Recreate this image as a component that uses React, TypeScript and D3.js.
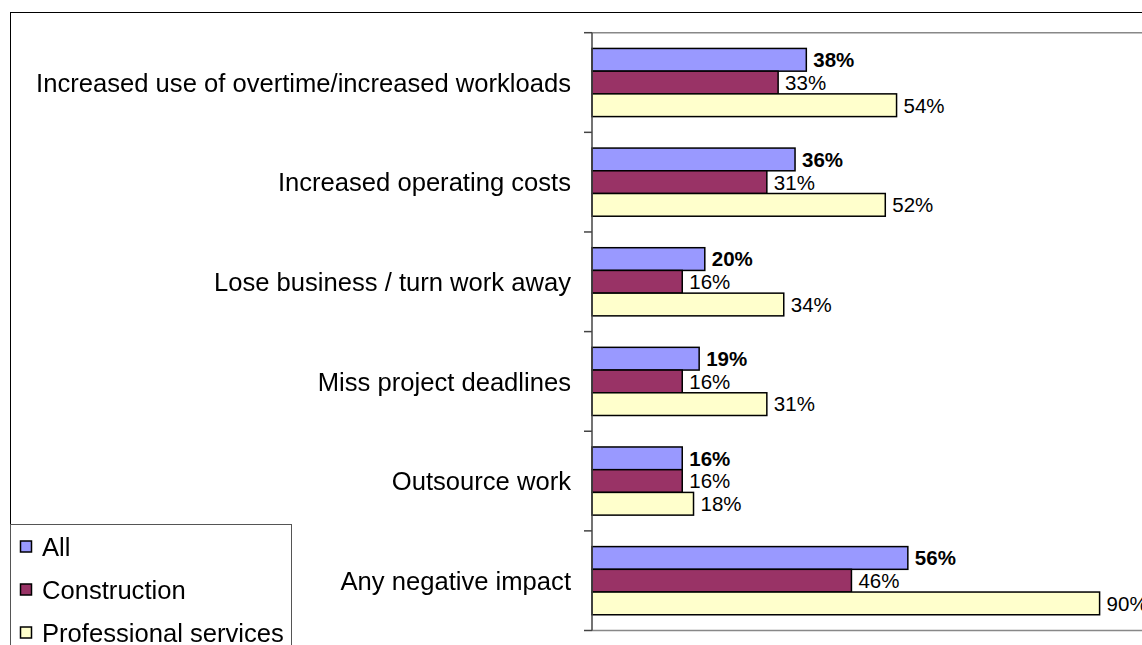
import { useEffect, useRef } from "react";
import * as d3 from "d3";

const categories = [
    "Increased use of overtime/increased workloads",
    "Increased operating costs",
    "Lose business / turn work away",
    "Miss project deadlines",
    "Outsource work",
    "Any negative impact",
];
const seriesNames = ["All", "Construction", "Professional services"];
const allValues = [38, 36, 20, 19, 16, 56];
const constructionValues = [33, 31, 16, 16, 16, 46];
const professionalValues = [54, 52, 34, 31, 18, 90];
const seriesColors = ["#9999FF", "#993366", "#FFFFCC"];

const FONT = "'Liberation Sans', Arial, sans-serif";

export default function App() {
    const svgRef = useRef<SVGSVGElement | null>(null);

    useEffect(() => {
        if (!svgRef.current) return;
        const root = d3.select(svgRef.current);
        root.selectAll("*").remove();

        const width = 1142;
        const height = 645;
        const plot = { left: 592, top: 32.7, right: 1156, bottom: 630.5 };

        const values = [allValues, constructionValues, professionalValues];

        // outer chart border
        root.append("rect")
            .attr("x", 10.5)
            .attr("y", 12.5)
            .attr("width", width + 20)
            .attr("height", height + 20)
            .attr("fill", "#fff")
            .attr("stroke", "#000")
            .attr("stroke-width", 1);

        const x = d3.scaleLinear().domain([0, 100]).range([plot.left, plot.right]);

        const yBands = d3
            .scaleBand()
            .domain(categories)
            .range([plot.top, plot.bottom])
            .paddingInner(0.316)
            .paddingOuter(0.158);

        const ySeries = d3
            .scaleBand()
            .domain(seriesNames)
            .range([0, yBands.bandwidth()]);

        // plot area frame (top / bottom gray lines)
        root.append("line")
            .attr("x1", plot.left).attr("x2", width + 10)
            .attr("y1", plot.top).attr("y2", plot.top)
            .attr("stroke", "#888").attr("stroke-width", 1.5);
        root.append("line")
            .attr("x1", plot.left).attr("x2", width + 10)
            .attr("y1", plot.bottom).attr("y2", plot.bottom)
            .attr("stroke", "#888").attr("stroke-width", 1.5);

        // bars
        const groups = root.selectAll(".cat")
            .data(categories)
            .enter()
            .append("g")
            .attr("class", "cat")
            .attr("transform", (d) => `translate(0,${yBands(d)})`);

        seriesNames.forEach((s, si) => {
            groups.append("rect")
                .attr("x", x(0))
                .attr("y", ySeries(s) || 0)
                .attr("width", (_, i) => x(values[si][i]) - x(0))
                .attr("height", ySeries.bandwidth())
                .attr("fill", seriesColors[si])
                .attr("stroke", "#000")
                .attr("stroke-width", 1.5);

            groups.append("text")
                .attr("x", (_, i) => x(values[si][i]) + 7)
                .attr("y", (ySeries(s) || 0) + ySeries.bandwidth() / 2)
                .attr("dy", "0.36em")
                .attr("font-family", FONT)
                .attr("font-size", "20.5px")
                .attr("font-weight", si === 0 ? "bold" : "normal")
                .attr("fill", "#000")
                .text((_, i) => `${values[si][i]}%`);
        });

        // category axis
        const step = yBands.step();
        const tickYs = d3.range(categories.length + 1).map((i) => plot.top + i * step);
        root.selectAll(".tick")
            .data(tickYs)
            .enter()
            .append("line")
            .attr("x1", plot.left - 8).attr("x2", plot.left)
            .attr("y1", (d) => d).attr("y2", (d) => d)
            .attr("stroke", "#444").attr("stroke-width", 1.5);
        root.append("line")
            .attr("x1", plot.left).attr("x2", plot.left)
            .attr("y1", plot.top).attr("y2", plot.bottom)
            .attr("stroke", "#444").attr("stroke-width", 1.5);

        root.selectAll(".catlabel")
            .data(categories)
            .enter()
            .append("text")
            .attr("x", 571)
            .attr("y", (d) => (yBands(d) || 0) + yBands.bandwidth() / 2)
            .attr("dy", "0.36em")
            .attr("text-anchor", "end")
            .attr("font-family", FONT)
            .attr("font-size", "25.6px")
            .attr("fill", "#000")
            .text((d) => d);

        // legend
        const legend = root.append("g");
        legend.append("rect")
            .attr("x", 10.5).attr("y", 524.5)
            .attr("width", 281).attr("height", 140)
            .attr("fill", "#fff")
            .attr("stroke", "#555").attr("stroke-width", 1);
        seriesNames.forEach((s, i) => {
            const cy = 546.5 + i * 43;
            legend.append("rect")
                .attr("x", 20.5).attr("y", cy - 5.5)
                .attr("width", 11).attr("height", 11)
                .attr("fill", seriesColors[i])
                .attr("stroke", "#000").attr("stroke-width", 1.5);
            legend.append("text")
                .attr("x", 42).attr("y", cy)
                .attr("dy", "0.36em")
                .attr("font-family", FONT)
                .attr("font-size", "25.6px")
                .attr("fill", "#000")
                .text(s);
        });
    }, []);

    return (
        <svg
            ref={svgRef}
            width={1142}
            height={645}
            style={{ position: "fixed", top: 0, left: 0, display: "block" }}
        />
    );
}
